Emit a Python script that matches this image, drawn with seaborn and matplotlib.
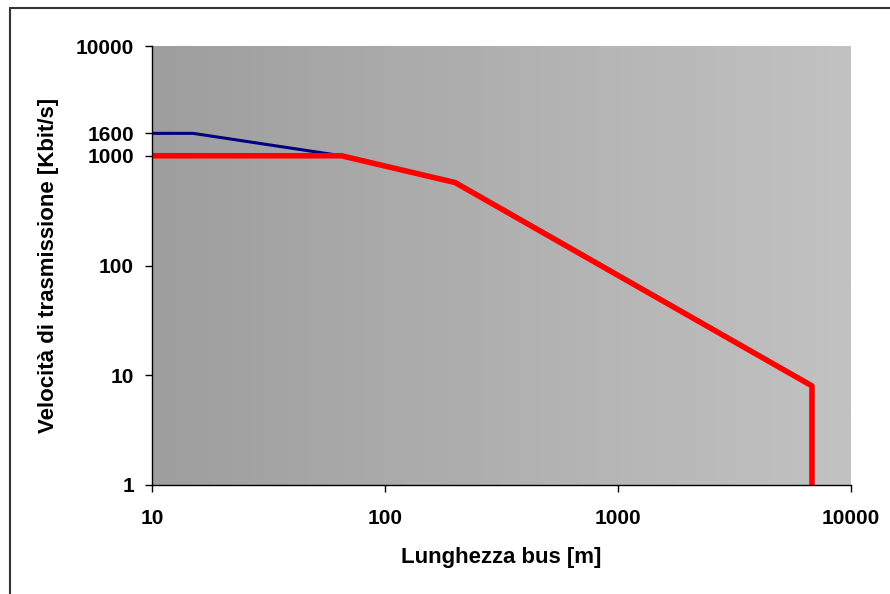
import numpy as np
import pandas as pd
import matplotlib
matplotlib.use('Agg')
import matplotlib.pyplot as plt
from matplotlib.lines import Line2D
from matplotlib.ticker import NullLocator, FixedLocator, FixedFormatter
import seaborn as sns

# %% Dati: lunghezza bus [m] e velocità [Kbit/s]
lunghezza_blu = [10, 15, 65]
velocita_blu = [1600, 1600, 1000]

lunghezza_rosso = [10, 65, 200, 6800, 6800]
velocita_rosso = [1000, 1000, 570, 8, 1]

tick_x = [10, 100, 1000, 10000]
tick_y = [1, 10, 100, 1000, 1600, 10000]

df_blu = pd.DataFrame({'lunghezza': lunghezza_blu, 'velocita': velocita_blu})
df_rosso = pd.DataFrame({'lunghezza': lunghezza_rosso, 'velocita': velocita_rosso})

# %% Stile
sns.set_theme(style='white')
plt.rcParams['font.family'] = ['Liberation Sans', 'DejaVu Sans']
plt.rcParams['font.weight'] = 'bold'

fig = plt.figure(figsize=(8.9, 5.94), dpi=100)
pos = [152 / 890, 109 / 594, 699 / 890, 439 / 594]

# sfondo sfumato (grigio scuro a sinistra, chiaro a destra)
ax_bg = fig.add_axes(pos, zorder=0)
grad = np.linspace(0, 1, 256).reshape(1, -1)
cmap_bg = matplotlib.colors.LinearSegmentedColormap.from_list('bg', ['#9e9e9e', '#c2c2c2'])
ax_bg.imshow(grad, aspect='auto', cmap=cmap_bg, extent=[0, 1, 0, 1])
ax_bg.axis('off')

ax = fig.add_axes(pos, zorder=1)
ax.patch.set_alpha(0)

sns.lineplot(data=df_blu, x='lunghezza', y='velocita', ax=ax, color='#000080',
             linewidth=2.2, sort=False, estimator=None)
sns.lineplot(data=df_rosso, x='lunghezza', y='velocita', ax=ax, color='#ff0000',
             linewidth=4, sort=False, estimator=None)

ax.set_xscale('log')
ax.set_yscale('log')
ax.set_xlim(10, 10000)
ax.set_ylim(1, 10000)

ax.xaxis.set_major_locator(FixedLocator(tick_x))
ax.xaxis.set_major_formatter(FixedFormatter([str(t) for t in tick_x]))
ax.yaxis.set_major_locator(FixedLocator(tick_y))
ax.yaxis.set_major_formatter(FixedFormatter([str(t) for t in tick_y]))
ax.xaxis.set_minor_locator(NullLocator())
ax.yaxis.set_minor_locator(NullLocator())

ax.tick_params(axis='both', which='major', direction='out', length=5, width=1,
               color='black', labelsize=15, labelcolor='black', bottom=True, left=True)
ax.tick_params(axis='x', pad=12)
ax.tick_params(axis='y', pad=8)

for s in ['top', 'right']:
    ax.spines[s].set_visible(False)
for s in ['left', 'bottom']:
    ax.spines[s].set_color('black')
    ax.spines[s].set_linewidth(1)

ax.set_xlabel('Lunghezza bus [m]', fontsize=16, fontweight='bold', color='black', labelpad=14)
ax.set_ylabel('Velocità di trasmissione [Kbit/s]', fontsize=16, fontweight='bold',
              color='black', labelpad=12)

# cornice del grafico (solo bordo sinistro e superiore visibili)
fig.add_artist(Line2D([10 / 890, 10 / 890], [0, 1 - 8 / 594], transform=fig.transFigure,
                      color='#333333', linewidth=1.5))
fig.add_artist(Line2D([10 / 890, 1], [1 - 8 / 594, 1 - 8 / 594], transform=fig.transFigure,
                      color='#333333', linewidth=1.5))

plt.savefig('out.png', dpi=100)
